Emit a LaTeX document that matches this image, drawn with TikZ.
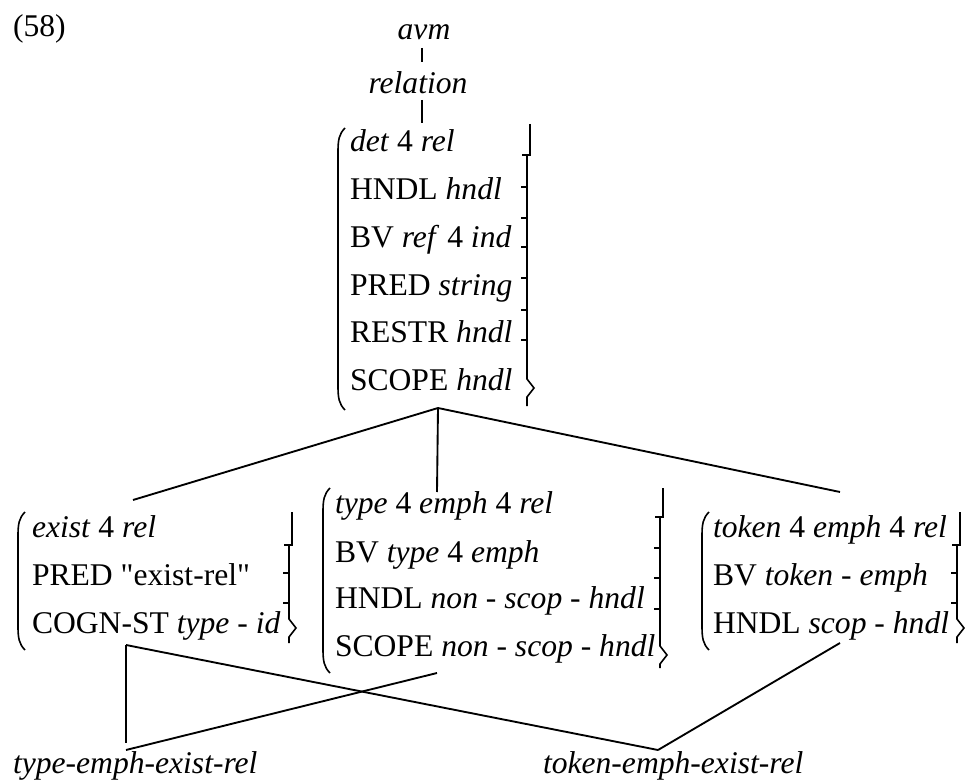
\documentclass[tikz,border=0pt]{standalone}
\usepackage{fontspec}
\setmainfont{Liberation Serif}
\newcommand\avmLeft[3]{\draw[brk] (#1+7,#2) .. controls (#1+1,#2+6) and (#1,#2+12) .. (#1,#2+24) -- (#1,#3-24) .. controls (#1,#3-12) and (#1+1,#3-6) .. (#1+7,#3);}
% #1 x, #2 top, #3 hook y, #4 bottom, #5 tip y, #6 ticks
\newcommand\avmRight[6]{%
  \draw[brk] (#1,#2) -- (#1,#3) -- (#1-8,#3);
  \draw[brk] (#1-3,#3) -- (#1-3,#5-9) -- (#1+4,#5) -- (#1-3,#5+9) -- (#1-3,#4);
  \foreach \tk in {#6} {\draw[brk] (#1-3,\tk) -- (#1-9,\tk);}}
\begin{document}
\begin{tikzpicture}[x=0.75pt,y=-0.75pt,
  every node/.style={inner sep=0pt, outer sep=0pt, font=\fontsize{23.7}{28}\selectfont},
  row/.style={anchor=base west},
  lbl/.style={anchor=base},
  conn/.style={line width=1.4pt},
  brk/.style={line width=1.2pt}]
\useasboundingbox (0,0) rectangle (965,781);

% labels
\node[row] (num) at (13,37) {(58)};
\node[lbl] (avm) at (424,40) {\textit{avm}};
\node[lbl] (relation) at (418,94) {\textit{relation}};
\node[row] (tyemph) at (13,773) {\textit{type-emph-exist-rel}};
\node[row] (toemph) at (543,773) {\textit{token-emph-exist-rel}};

% top box
\node[row] (t1) at (350,152) {\textit{det} 4 \textit{rel}};
\node[row] (t2) at (350,200) {HNDL \textit{hndl}};
\node[row] (t3) at (350,248) {BV \textit{ref} 4 \textit{ind}};
\node[row] (t4) at (350,296) {PRED \textit{string}};
\node[row] (t5) at (350,343) {RESTR \textit{hndl}};
\node[row] (t6) at (350,391) {SCOPE \textit{hndl}};
\avmLeft{338}{128}{410}
\avmRight{530}{124}{155}{406}{388}{187,218,247,278,310,340}

% left box
\node[row] (e1) at (32,537) {\textit{exist} 4 \textit{rel}};
\node[row] (e2) at (32,585) {PRED \textquotedbl exist-rel\textquotedbl};
\node[row] (e3) at (32,633) {COGN-ST \textit{type} - \textit{id}};
\avmLeft{18}{512}{650}
\avmRight{292}{512}{545}{643}{628}{573,603}

% middle box
\node[row] (m1) at (335,513) {\textit{type} 4 \textit{emph} 4 \textit{rel}};
\node[row] (m2) at (335,562) {BV \textit{type} 4 \textit{emph}};
\node[row] (m3) at (335,608) {HNDL \textit{non} - \textit{scop} - \textit{hndl}};
\node[row] (m4) at (335,656) {SCOPE \textit{non} - \textit{scop} - \textit{hndl}};
\avmLeft{323}{488}{673}
\avmRight{663}{488}{517}{668}{655}{548,578,609}

% right box
\node[row] (k1) at (713,537) {\textit{token} 4 \textit{emph} 4 \textit{rel}};
\node[row] (k2) at (713,585) {BV \textit{token} - \textit{emph}};
\node[row] (k3) at (713,633) {HNDL \textit{scop} - \textit{hndl}};
\avmLeft{702}{512}{650}
\avmRight{960}{512}{545}{643}{628}{573,603}

% connector points
\coordinate (avmB) at (422,48);
\coordinate (relT) at (422,62);
\coordinate (relB) at (422,100);
\coordinate (topT) at (422,123);
\coordinate (topB) at (438,408);
\coordinate (exT) at (133,500);
\coordinate (tyT) at (437,492);
\coordinate (toT) at (840,492);
\coordinate (exB) at (126,645);
\coordinate (tyB) at (437,673);
\coordinate (toB) at (840,643);
\coordinate (tyeA) at (126,743);
\coordinate (tyeB) at (126,750);
\coordinate (toeT) at (658,750);

\draw[conn] (avmB) -- (relT);
\draw[conn] (relB) -- (topT);
\draw[conn] (topB) -- (exT);
\draw[conn] (topB) -- (tyT);
\draw[conn] (topB) -- (toT);
\draw[conn] (exB) -- (tyeA);
\draw[conn] (tyB) -- (tyeB);
\draw[conn] (exB) -- (toeT);
\draw[conn] (toB) -- (toeT);
\end{tikzpicture}
\end{document}
